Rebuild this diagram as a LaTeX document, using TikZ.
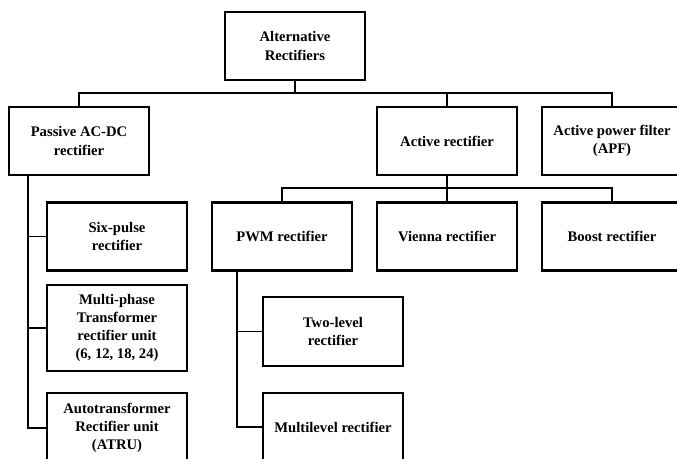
\documentclass[tikz,border=0pt]{standalone}
\usepackage{fontspec}
\setmainfont{Liberation Serif}
\usepackage{tikz}
\usetikzlibrary{positioning,calc}
\tikzset{
  rbox/.style={draw=black, fill=white, line width=2pt, align=center, inner sep=2pt,
    minimum width=4.2cm, minimum height=2.04cm, font=\bfseries\fontsize{12.5}{15.5}\selectfont},
  link/.style={draw=black, line width=1.5pt},
}
\begin{document}
\begin{tikzpicture}[x=0.03cm, y=-0.03cm]
  \useasboundingbox (0,0) rectangle (677,459);
  \clip (0,0) rectangle (677,459);
  % top level
  \node[rbox] (root) at (295,46) {Alternative\\Rectifiers};
  \node[rbox] (passive) at (79,141) {Passive AC-DC\\rectifier};
  \node[rbox] (active) at (447,141) {Active rectifier};
  \node[rbox] (apf) at (612,141) {Active power filter\\(APF)};
  % passive branch
  \node[rbox] (sixp) at (117,236.5) {Six-pulse\\rectifier};
  \node[rbox, minimum height=2.58cm] (multi) at (117,328) {Multi-phase\\Transformer\\rectifier unit\\(6, 12, 18, 24)};
  \node[rbox, minimum height=2.1cm] (atru) at (117,428) {Autotransformer\\Rectifier unit\\(ATRU)};
  % active branch
  \node[rbox] (pwm) at (282,236.5) {PWM rectifier};
  \node[rbox] (vienna) at (447,236.5) {Vienna rectifier};
  \node[rbox] (boost) at (612,236.5) {Boost rectifier};
  \node[rbox, minimum height=2.07cm] (twol) at (333,331.5) {Two-level\\rectifier};
  \node[rbox] (multil) at (333,427) {Multilevel rectifier};
  % buses
  \coordinate (bus1) at (295,93);
  \coordinate (bus2) at (447,188);
  \coordinate (ptrunk) at (28,0);
  \coordinate (wtrunk) at (237,0);
  \draw[link] (root.south) -- (bus1);
  \draw[link] (passive.north) |- (bus1) -| (apf.north);
  \draw[link] (active.north) -- (active.north |- bus1);
  \draw[link] (active.south) -- (bus2);
  \draw[link] (pwm.north) |- (bus2) -| (boost.north);
  \draw[link] (vienna.north) -- (vienna.north |- bus2);
  \draw[link] (passive.south -| ptrunk) |- (atru.west);
  \draw[link] (sixp.west) -- (sixp.west -| ptrunk);
  \draw[link] (multi.west) -- (multi.west -| ptrunk);
  \draw[link] (pwm.south -| wtrunk) |- (multil.west);
  \draw[link] (twol.west) -- (twol.west -| wtrunk);
\end{tikzpicture}
\end{document}
